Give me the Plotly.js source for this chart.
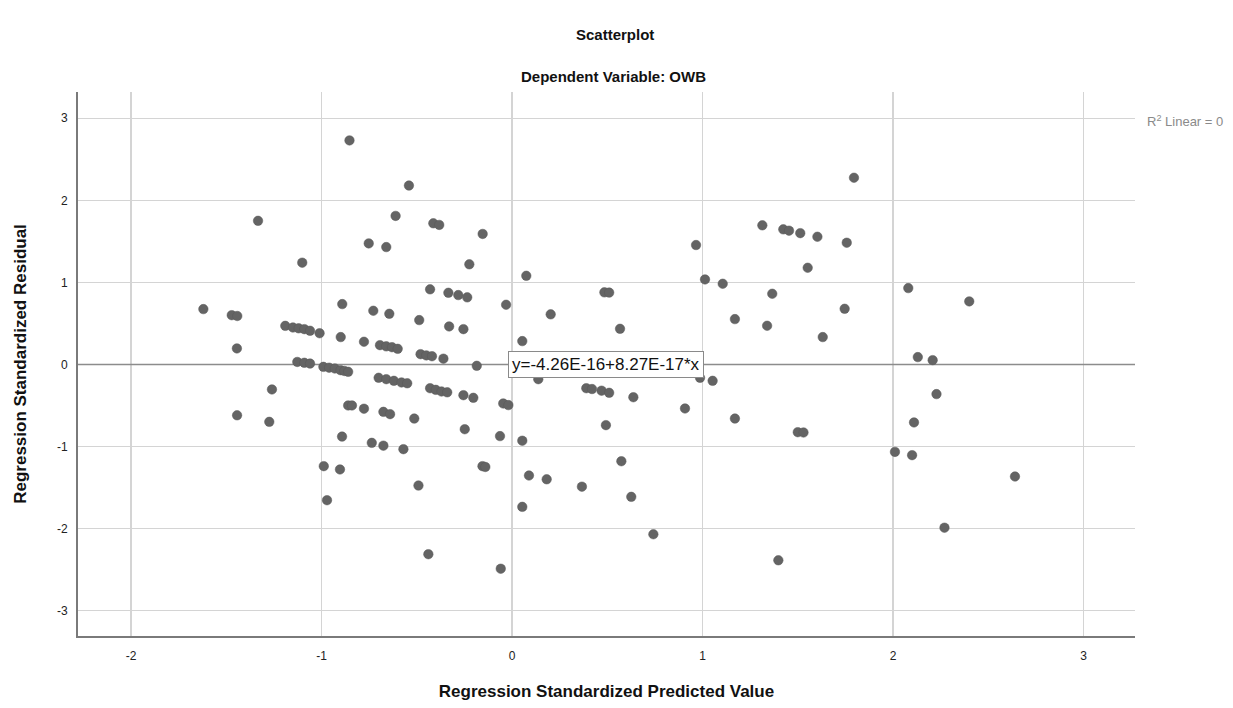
<!DOCTYPE html>
<html>
<head>
<meta charset="utf-8">
<script src="https://cdn.plot.ly/plotly-3.0.1.min.js"></script>
<style>html,body{margin:0;padding:0;background:#fff;}#chart{width:1233px;height:708px;}</style>
</head>
<body>
<div id="chart"></div>
<script>
// Regression Standardized Predicted Value
var predicted = [
 -0.853,-1.333,-0.752,-1.101,-1.62,-1.471,-1.442,-0.891,-0.728,
 -1.19,-1.15,-1.12,-1.09,-1.06,-1.01,-0.899,-0.777,-1.444,
 -1.127,-1.09,-1.06,-0.99,-0.96,-0.93,-0.90,-0.88,-0.86,
 -0.70,-0.66,-0.62,-0.58,-0.55,-1.26,-0.86,-0.84,-0.777,-0.675,-0.64,
 -1.443,-1.274,-0.892,-0.736,-0.675,-0.988,-0.903,-0.971,
 -0.541,-0.611,-0.413,-0.382,-0.154,-0.66,-0.224,0.075,-0.43,
 -0.334,-0.282,-0.235,-0.031,-0.644,-0.487,-0.33,-0.255,0.054,
 -0.693,-0.66,-0.63,-0.60,-0.48,-0.45,-0.42,-0.36,-0.185,
 -0.43,-0.40,-0.37,-0.34,-0.255,-0.203,-0.046,-0.019,-0.513,-0.248,
 -0.063,0.054,-0.57,-0.155,-0.14,0.089,-0.491,0.054,-0.439,-0.059,
 0.966,1.013,1.106,0.485,0.51,0.203,1.17,0.567,0.138,0.987,1.053,
 0.39,0.42,0.47,0.51,0.637,0.908,0.493,1.17,0.574,0.182,0.367,0.626,0.742,
 1.795,1.314,1.424,1.454,1.513,1.603,1.757,1.552,1.366,2.08,1.746,
 1.339,1.631,2.13,2.208,2.228,2.11,1.50,1.53,2.01,2.10,1.398,2.40,2.64,2.27
];
// Regression Standardized Residual
var residual = [
 2.73,1.75,1.475,1.24,0.674,0.60,0.59,0.735,0.654,
 0.47,0.45,0.44,0.43,0.41,0.38,0.333,0.276,0.195,
 0.03,0.02,0.01,-0.03,-0.04,-0.05,-0.07,-0.08,-0.09,
 -0.163,-0.18,-0.20,-0.22,-0.23,-0.305,-0.50,-0.50,-0.54,-0.578,-0.606,
 -0.62,-0.70,-0.88,-0.956,-0.99,-1.24,-1.28,-1.655,
 2.18,1.81,1.72,1.70,1.59,1.43,1.22,1.08,0.915,
 0.873,0.845,0.817,0.727,0.617,0.54,0.463,0.43,0.284,
 0.235,0.22,0.21,0.19,0.125,0.11,0.10,0.07,-0.017,
 -0.29,-0.31,-0.33,-0.34,-0.375,-0.407,-0.476,-0.496,-0.66,-0.79,
 -0.874,-0.93,-1.033,-1.24,-1.25,-1.354,-1.476,-1.736,-2.313,-2.49,
 1.455,1.036,0.983,0.878,0.875,0.61,0.552,0.434,-0.18,-0.163,-0.2,
 -0.29,-0.30,-0.32,-0.346,-0.40,-0.537,-0.74,-0.66,-1.18,-1.40,-1.49,-1.614,-2.07,
 2.275,1.695,1.646,1.63,1.60,1.556,1.483,1.178,0.861,0.93,0.678,
 0.471,0.333,0.089,0.052,-0.362,-0.707,-0.826,-0.83,-1.066,-1.106,-2.387,0.768,-1.366,-1.99
];
var xTicks = [-2,-1,0,1,2,3];
var yTicks = [-3,-2,-1,0,1,2,3];
var xRange = [-2.278, 3.27];
var yRange = [-3.31, 3.32];
var intercept = -4.26e-16;
var slope = 8.27e-17;
var fitLabel = "y=-4.26E-16+8.27E-17*x";
var r2Label = "R<sup>2</sup> Linear = 0";

var fitX = [xRange[0], xRange[1]];
var fitY = fitX.map(function(v){ return intercept + slope * v; });

var font = "Liberation Sans, Arial, sans-serif";

var traces = [
 {
  x: fitX, y: fitY, mode: "lines", type: "scatter",
  line: {color: "#8c8c8c", width: 1.5}, hoverinfo: "skip", showlegend: false
 },
 {
  x: predicted, y: residual, mode: "markers", type: "scatter",
  marker: {size: 9.5, color: "#646464", line: {color: "#585858", width: 0.5}},
  showlegend: false
 }
];

var layout = {
 width: 1233, height: 708,
 paper_bgcolor: "#ffffff", plot_bgcolor: "#ffffff",
 margin: {l: 78, r: 98, t: 92, b: 72},
 font: {family: font, color: "#222222", size: 12},
 showlegend: false,
 xaxis: {
  range: xRange, tickvals: xTicks, ticktext: xTicks.map(String),
  showgrid: true, gridcolor: "#d4d4d4", gridwidth: 1.5,
  zeroline: false, showline: true, linecolor: "#7a7a7a", linewidth: 2,
  ticks: "outside", ticklen: 8, tickcolor: "rgba(0,0,0,0)",
  tickfont: {family: font, size: 12, color: "#222222"},
  title: {text: "Regression Standardized Predicted Value", standoff: 23,
   font: {family: font, size: 17, color: "#111111", weight: "bold"}},
  automargin: false, fixedrange: true
 },
 yaxis: {
  range: yRange, tickvals: yTicks, ticktext: yTicks.map(String),
  showgrid: true, gridcolor: "#d4d4d4", gridwidth: 1.5,
  zeroline: false, showline: true, linecolor: "#7a7a7a", linewidth: 2,
  ticks: "outside", ticklen: 6, tickcolor: "rgba(0,0,0,0)",
  tickfont: {family: font, size: 12, color: "#222222"},
  title: {text: "Regression Standardized Residual", standoff: 26,
   font: {family: font, size: 17, color: "#111111", weight: "bold"}},
  automargin: false, fixedrange: true
 },
 annotations: [
  {text: "<b>Scatterplot</b>", xref: "paper", yref: "paper", x: 0.508, y: 1.105,
   xanchor: "center", yanchor: "middle", showarrow: false,
   font: {family: font, size: 15, color: "#111111"}},
  {text: "<b>Dependent Variable: OWB</b>", xref: "paper", yref: "paper", x: 0.507, y: 1.029,
   xanchor: "center", yanchor: "middle", showarrow: false,
   font: {family: font, size: 15, color: "#111111"}},
  {text: r2Label, xref: "paper", yref: "paper", x: 1.0095, y: 0.947,
   xanchor: "left", yanchor: "middle", showarrow: false,
   font: {family: font, size: 13, color: "#8a8a8a"}},
  {text: fitLabel, xref: "x", yref: "y", x: 0.493, y: 0,
   xanchor: "center", yanchor: "middle", showarrow: false,
   bgcolor: "#ffffff", bordercolor: "#8a8a8a", borderwidth: 1, borderpad: 3,
   font: {family: font, size: 17, color: "#111111"}}
 ]
};

Plotly.newPlot("chart", traces, layout, {displayModeBar: false, staticPlot: true});
</script>
</body>
</html>
